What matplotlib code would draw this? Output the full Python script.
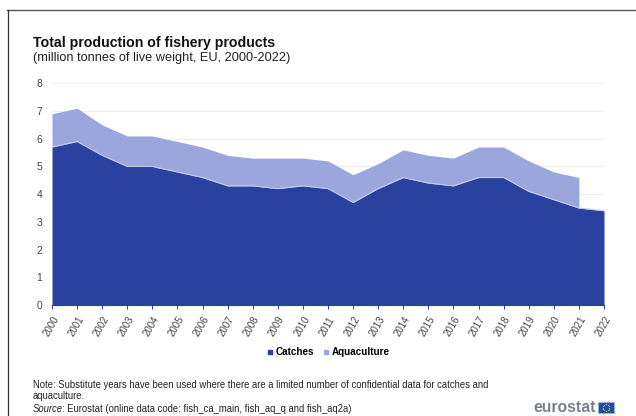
import numpy as np
import matplotlib.pyplot as plt
from matplotlib.patches import Rectangle
from matplotlib.lines import Line2D

plt.rcParams['font.family'] = ['Liberation Sans', 'DejaVu Sans']

# Datos (millones de toneladas)
years = list(range(2000, 2023))
catches = [5.7, 5.9, 5.4, 5.0, 5.0, 4.8, 4.6, 4.3, 4.3, 4.2, 4.3, 4.2,
           3.7, 4.2, 4.6, 4.4, 4.3, 4.6, 4.6, 4.1, 3.8, 3.5, 3.4]
aquaculture = [1.2, 1.2, 1.1, 1.1, 1.1, 1.1, 1.1, 1.1, 1.0, 1.1, 1.0, 1.0,
               1.0, 0.9, 1.0, 1.0, 1.0, 1.1, 1.1, 1.1, 1.0, 1.1, np.nan]
yticks = [0, 1, 2, 3, 4, 5, 6, 7, 8]

W, H = 636, 416
fig = plt.figure(figsize=(W / 100, H / 100), dpi=100)
ax = fig.add_axes([52 / W, 1 - 305 / H, 552 / W, 221.7 / H])

c = np.array(catches)
total = c + np.array(aquaculture)
ax.fill_between(years, 0, c, color='#2a41a0', lw=0, zorder=3)
ax.fill_between(years, c, total, color='#9ba7dc', lw=0, zorder=2)
ax.plot(years, c, color='#c3cbec', lw=0.8, zorder=4)

ax.set_xlim(2000, 2022)
ax.set_ylim(0, 8)
ax.set_yticks(yticks)
ax.set_xticks(years)
ax.set_xticklabels(years, rotation=60, ha='right', rotation_mode='anchor',
                   fontsize=7, color='#444444')
ax.tick_params(axis='y', length=0, labelsize=7.5, labelcolor='#444444', pad=7)
ax.tick_params(axis='x', length=3, width=0.7, color='#2a41a0', pad=4)
ax.grid(axis='y', color='#eeeeee', lw=0.8, zorder=0)
for s in ['top', 'right']:
    ax.spines[s].set_visible(False)
ax.spines['left'].set_visible(False)
ax.spines['bottom'].set_color('#2a41a0')

# Titulo y notas
fig.text(33 / W, 1 - 43 / H, 'Total production of fishery products',
         fontsize=10.2, fontweight='bold', color='#111111', va='center')
fig.text(33 / W, 1 - 58.5 / H, '(million tonnes of live weight, EU, 2000-2022)',
         fontsize=9.2, color='#222222', va='center')
fig.text(33 / W, 1 - 384.5 / H,
         'Note: Substitute years have been used where there are a limited number '
         'of confidential data for catches and',
         fontsize=6.85, color='#222222', va='center')
fig.text(33 / W, 1 - 396 / H, 'aquaculture.', fontsize=6.85, color='#222222', va='center')
fig.text(33 / W, 1 - 408.5 / H, 'Source', fontsize=6.85, style='italic', color='#222222', va='center')
fig.text(62 / W, 1 - 408.5 / H,
         ': Eurostat (online data code: fish_ca_main, fish_aq_q and fish_aq2a)',
         fontsize=6.85, color='#222222', va='center')

# Leyenda
handles = [Line2D([], [], ls='', marker='s', ms=2.8, color='#2a41a0', label='Catches'),
           Line2D([], [], ls='', marker='s', ms=2.8, color='#9ba7dc', label='Aquaculture')]
leg = fig.legend(handles=handles, loc='center', bbox_to_anchor=(328 / W, 1 - 352 / H),
                 ncol=2, frameon=False, handlelength=0.7, handletextpad=0.25,
                 columnspacing=0.8, prop={'size': 7.1, 'weight': 'bold'})

# Logo
fig.text(533 / W, 1 - 407 / H, 'eurostat', fontsize=11.3, fontweight='bold',
         color='#7a808a', va='center')
fig.add_artist(Rectangle((598 / W, 1 - 413 / H), 16 / W, 11 / H,
                         transform=fig.transFigure, fc='#1f4fa8', ec='#9db4d8', lw=0.5))
a = np.linspace(0, 2 * np.pi, 12, endpoint=False)
fig.add_artist(Line2D((606 + 3.2 * np.cos(a)) / W, (H - 407.5 + 3.2 * np.sin(a)) / H,
                      ls='', marker='o', ms=0.7, mew=0, color='#f5d33c',
                      transform=fig.transFigure))

# Marco
fig.add_artist(Line2D([7 / W, 1], [1 - 10 / H, 1 - 10 / H], color='#555555', lw=1.0))
fig.add_artist(Line2D([7.5 / W, 7.5 / W], [0, 1 - 10 / H], color='#333333', lw=0.9))

fig.savefig('out.png', dpi=100)
